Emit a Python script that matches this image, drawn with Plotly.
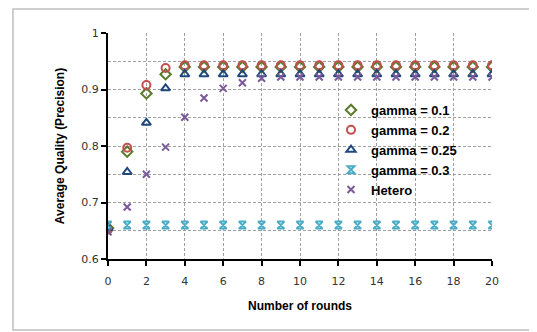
import plotly.graph_objects as go

rounds = list(range(0, 21))
g01 = [0.655, 0.790, 0.893, 0.927] + [0.940] * 17
g02 = [0.652, 0.797, 0.908, 0.938] + [0.943] * 17
g025 = [0.655, 0.754, 0.841, 0.902] + [0.927] * 17
g03 = [0.660] * 21
hetero = [0.648, 0.692, 0.750, 0.798, 0.851, 0.885, 0.902, 0.912, 0.920] + [0.922] * 12

series = [
    ("gamma = 0.1", g01, "diamond-open", "#5A7A2A", 8),
    ("gamma = 0.2", g02, "circle-open", "#C0504D", 8),
    ("gamma = 0.25", g025, "triangle-up-open", "#1F497D", 8),
    ("gamma = 0.3", g03, "hourglass-open", "#4BACC6", 7),
    ("Hetero", hetero, "x-thin-open", "#7B5A9A", 7),
]

fig = go.Figure()
for name, vals, sym, col, sz in series:
    fig.add_trace(go.Scatter(
        x=rounds, y=vals, mode="markers", name="<b>" + name + "</b>",
        marker=dict(symbol=sym, size=sz, color=col, line=dict(color=col, width=2)),
    ))

# page has an 8px body margin; work in page pixels and convert
O = 8
W, H = 529, 324
L, R, T, B = 108 - O, 45, 33 - O, 73
pw, ph = W - L - R, H - T - B

def px(xp):
    return (xp - O - L) / pw

def py(yp):
    return (H - B - (yp - O)) / ph

fig.add_shape(type="rect", xref="paper", yref="paper",
              x0=px(13), x1=px(530), y0=py(330), y1=py(9),
              line=dict(color="#BFBFBF", width=1.5), fillcolor="rgba(0,0,0,0)", layer="below")
fig.add_shape(type="rect", xref="paper", yref="paper",
              x0=px(353), x1=px(467), y0=py(196), y1=py(96),
              line=dict(width=0), fillcolor="white", layer="between")

GRID = "#A0A0A0"
DASH = "3px,2px"
fig.update_layout(
    width=W, height=H,
    margin=dict(l=L, r=R, t=T, b=B),
    paper_bgcolor="white", plot_bgcolor="white",
    font=dict(family="DejaVu Sans", size=11, color="#333333"),
    showlegend=True,
    legend=dict(x=px(331), y=py(95), xanchor="left", yanchor="top",
                bgcolor="rgba(0,0,0,0)", borderwidth=0,
                font=dict(family="Liberation Sans", size=13, color="black"),
                tracegroupgap=0, itemwidth=30),
    xaxis=dict(range=[0, 20], dtick=2, showline=True, linecolor="black", linewidth=2,
               ticks="outside", ticklen=5, tickwidth=2, tickcolor="black",
               ticklabelstandoff=6,
               showgrid=True, gridcolor=GRID, griddash=DASH, gridwidth=1,
               zeroline=False, automargin=False,
               title=dict(text="<b>Number of rounds</b>",
                          font=dict(family="Liberation Sans", size=12, color="black"), standoff=14)),
    yaxis=dict(range=[0.6, 1.0], dtick=0.1, tickformat=".1~f", showline=True, linecolor="black", linewidth=2,
               ticks="outside", ticklen=5, tickwidth=2, tickcolor="black",
               showgrid=True, gridcolor=GRID, griddash=DASH, gridwidth=1,
               minor=dict(dtick=0.05, showgrid=True, gridcolor=GRID, griddash=DASH, ticks=""),
               zeroline=False, automargin=False,
               title=dict(text="<b>Average Quality (Precision)</b>",
                          font=dict(family="Liberation Sans", size=12, color="black"), standoff=14)),
)

fig.write_html("out.html")
